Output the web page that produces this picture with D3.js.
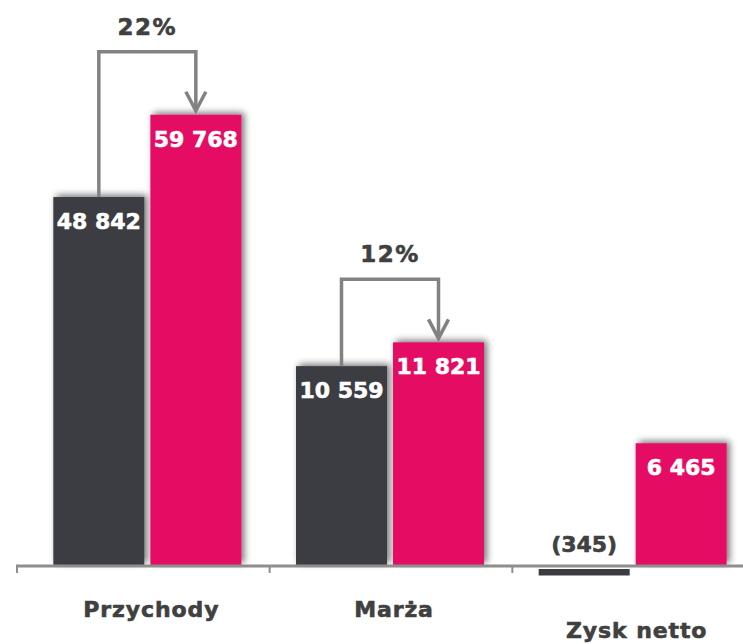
<!DOCTYPE html>
<html><head><meta charset="utf-8">
<script src="https://cdn.jsdelivr.net/npm/d3@7"></script>
<style>
html,body{margin:0;padding:0;background:#fff;}
svg{display:block;}
text{font-family:Verdana,"DejaVu Sans",sans-serif;font-weight:bold;}
</style></head>
<body>
<svg id="chart" width="743" height="644"></svg>
<script>
// ---- data ----
const categories = ["Przychody", "Marża", "Zysk netto"];
const seriesNames = ["poprzedni", "bieżący"];
const valuesPrev = [48842, 10559, -345];
const valuesCurr = [59768, 11821, 6465];
const changeLabels = ["22%", "12%", null];
// each group is drawn on its own (broken) value scale, as in the original
const groupScaleMax = [75000, 30000, 30000];

// ---- layout / style ----
const W = 743, H = 644;
const baseY = 565;
const axisX0 = 16, axisX1 = 743;
const colors = ["#3b3c42", "#e50b63"];
const textDark = "#404040";
const connectorColor = "#828282";
const axisColor = "#8e8e8e";

const svg = d3.select("#chart");

const defs = svg.append("defs");
const f = defs.append("filter").attr("id", "shadow")
  .attr("x", "-20%").attr("y", "-20%").attr("width", "140%").attr("height", "140%");
f.append("feGaussianBlur").attr("in", "SourceAlpha").attr("stdDeviation", 3.5).attr("result", "b");
f.append("feOffset").attr("in", "b").attr("dx", 3).attr("dy", -2).attr("result", "o");
f.append("feComponentTransfer").attr("in", "o").attr("result", "s")
  .append("feFuncA").attr("type", "linear").attr("slope", 0.55);
const m = f.append("feMerge");
m.append("feMergeNode").attr("in", "s");
m.append("feMergeNode").attr("in", "SourceGraphic");

const x0 = d3.scaleBand().domain(categories).range([26, 754]);
const x1 = d3.scaleBand().domain(seriesNames)
  .range([x0.bandwidth() / 2 - 94, x0.bandwidth() / 2 + 94]).paddingInner(0.062);
const yScales = groupScaleMax.map(mx => d3.scaleLinear().domain([0, mx]).range([baseY, 0]));

const loc = d3.formatLocale({decimal: ",", thousands: "\u00a0", grouping: [3], currency: ["", ""]});
const fmtNum = loc.format(",d");
const fmtLabel = v => v < 0 ? "(" + fmtNum(-v) + ")" : fmtNum(v);

const rows = [];
categories.forEach((c, i) => {
  [valuesPrev[i], valuesCurr[i]].forEach((v, j) => rows.push({cat: c, gi: i, si: j, v: v}));
});

const negGap = 4;
// bars
svg.append("g").selectAll("rect").data(rows).join("rect")
  .attr("x", d => x0(d.cat) + x1(seriesNames[d.si]))
  .attr("width", x1.bandwidth())
  .attr("y", d => d.v >= 0 ? yScales[d.gi](d.v) : baseY + negGap)
  .attr("height", d => Math.abs(yScales[d.gi](d.v) - yScales[d.gi](0)))
  .attr("fill", d => colors[d.si])
  .attr("filter", d => d.v >= 0 ? "url(#shadow)" : null);

// axis line and ticks
svg.append("line").attr("x1", axisX0).attr("x2", axisX1).attr("y1", baseY + 1).attr("y2", baseY + 1)
  .attr("stroke", axisColor).attr("stroke-width", 3);
svg.append("g").selectAll("line").data(categories).join("line")
  .attr("x1", (d, i) => i === 0 ? axisX0 + 1 : x0(d) + 1)
  .attr("x2", (d, i) => i === 0 ? axisX0 + 1 : x0(d) + 1)
  .attr("y1", baseY + 1).attr("y2", baseY + 8)
  .attr("stroke", axisColor).attr("stroke-width", 2);

// value labels
svg.append("g").selectAll("text").data(rows).join("text")
  .attr("x", d => x0(d.cat) + x1(seriesNames[d.si]) + x1.bandwidth() / 2)
  .attr("y", d => d.v >= 0 ? yScales[d.gi](d.v) + 32 : baseY - 13)
  .attr("text-anchor", "middle")
  .attr("font-size", 22)
  .attr("fill", d => d.v >= 0 ? "#ffffff" : textDark)
  .attr("stroke", d => d.v >= 0 ? "#ffffff" : textDark)
  .attr("stroke-width", 0.6)
  .text(d => fmtLabel(d.v));

// growth connectors
categories.forEach((c, i) => {
  if (!changeLabels[i]) return;
  const y = yScales[i];
  const xa = x0(c) + x1(seriesNames[0]) + x1.bandwidth() / 2;
  const xb = x0(c) + x1(seriesNames[1]) + x1.bandwidth() / 2;
  const top = y(valuesCurr[i]) - 63;
  const tip = y(valuesCurr[i]) - 4;
  svg.append("path")
    .attr("d", `M${xa},${y(valuesPrev[i])}V${top}H${xb}V${tip}`)
    .attr("fill", "none").attr("stroke", connectorColor).attr("stroke-width", 3.5);
  svg.append("path")
    .attr("d", `M${xb - 10},${tip - 19}L${xb},${tip}L${xb + 10},${tip - 19}`)
    .attr("fill", "none").attr("stroke", connectorColor).attr("stroke-width", 3.5)
    .attr("stroke-linejoin", "miter");
  svg.append("text")
    .attr("x", (xa + xb) / 2).attr("y", top - 17)
    .attr("text-anchor", "middle").attr("font-size", 23)
    .attr("fill", textDark).attr("stroke", textDark).attr("stroke-width", 0.6)
    .attr("letter-spacing", 1.5)
    .text(changeLabels[i]);
});

// category labels (staggered)
svg.append("g").selectAll("text").data(categories).join("text")
  .attr("x", d => x0(d) + x0.bandwidth() / 2 + 4)
  .attr("y", (d, i) => i === 2 ? 638 : 617)
  .attr("text-anchor", "middle")
  .attr("font-size", 22)
  .attr("letter-spacing", 0.9)
  .attr("fill", textDark).attr("stroke", textDark).attr("stroke-width", 0.6)
  .text(d => d);
</script>
</body></html>
